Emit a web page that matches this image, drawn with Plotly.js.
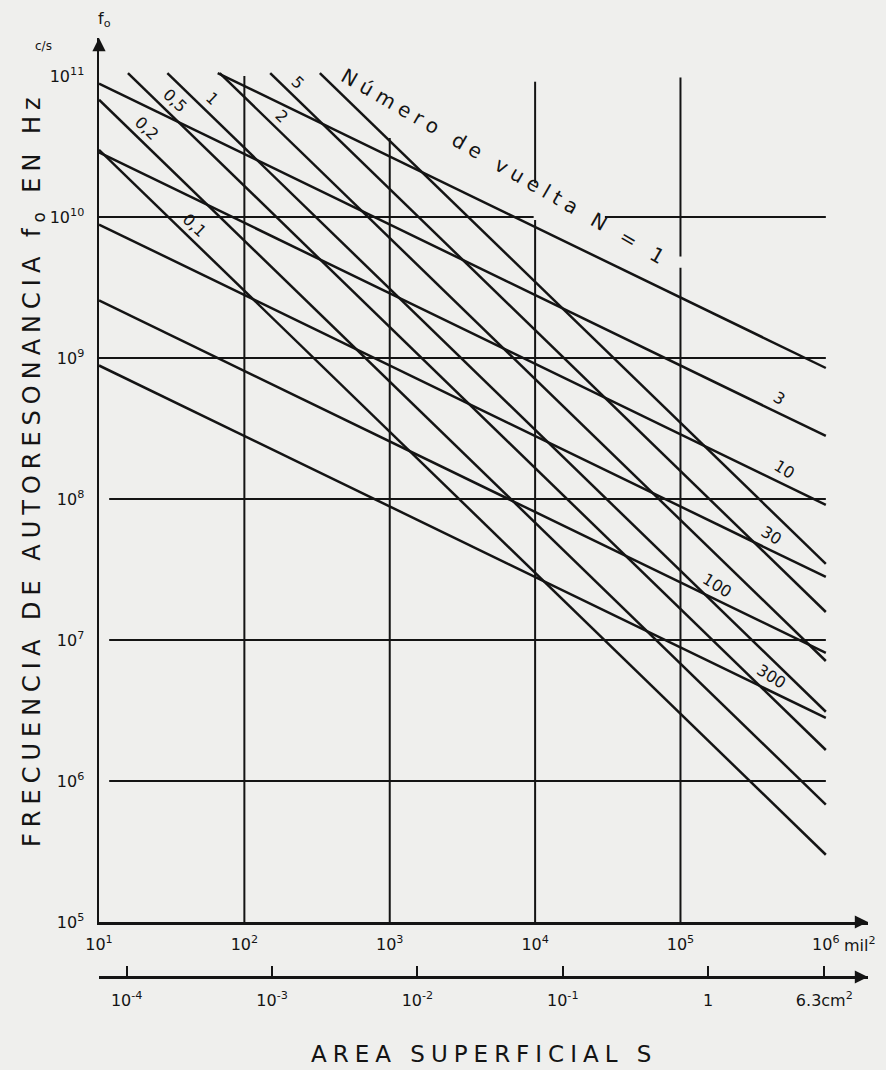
<!DOCTYPE html>
<html>
<head>
<meta charset="utf-8">
<script src="https://cdn.plot.ly/plotly-3.0.1.min.js"></script>
<style>
  html, body { margin: 0; padding: 0; background: #efefed; }
  #chart { width: 886px; height: 1070px; }
</style>
</head>
<body>
<div id="chart"></div>
<script>
// ---------- data ----------
// Steep family (slope -1 on log-log): label and frequency (Hz) at S = 1e4 mil²
const steepLabels = ['0,1', '0,2', '0,5', '1', '2', '5', ''];
const steepFreqAt1e4 = [3.0e7, 6.8e7, 1.66e8, 3.1e8, 7.1e8, 1.58e9, 3.47e9];
const steepLabelS = [39.6, 18.5, 28.8, 51.9, 158, 202, null];

// Shallow family (slope -1/2): número de vueltas N, frequency (Hz) at S = 1e4 mil²
const turnsN = [1, 3, 10, 30, 100, 300];
const turnsFreqAt1e4 = [8.5e9, 2.8e9, 9.1e8, 2.8e8, 8.1e7, 2.8e7];
const turnsLabelS = [6300, 4.35e5, 4.72e5, 3.84e5, 1.63e5, 3.84e5];

// Axis ticks
const yTickVals = [1e5, 1e6, 1e7, 1e8, 1e9, 1e10, 1e11];
const yTickText = ['10<sup>5</sup>', '10<sup>6</sup>', '10<sup>7</sup>', '10<sup>8</sup>', '10<sup>9</sup>', '10<sup>10</sup>', '10<sup>11</sup>'];
const xTickVals = [1e1, 1e2, 1e3, 1e4, 1e5, 1e6];
const xTickText = ['10<sup>1</sup>', '10<sup>2</sup>', '10<sup>3</sup>', '10<sup>4</sup>', '10<sup>5</sup>', '10<sup>6</sup>'];
const cmTickVals = [1e-4, 1e-3, 1e-2, 1e-1, 1, 6.3];
const cmTickText = ['10<sup>-4</sup>', '10<sup>-3</sup>', '10<sup>-2</sup>', '10<sup>-1</sup>', '1', '6.3cm<sup>2</sup>'];
const milPerCm2 = 155000;        // 1 cm² = 155 000 mil²

// Chart limits
const S_MIN = 10, S_MAX = 1e6, F_TOP = 1.05e11;
const X_RANGE = [1, 6.29], Y_RANGE = [5, 11.27];

// ---------- build ----------
const Z = Math.log10;
const INK = '#141414';
const traces = [];
const annotations = [];

function seg(xs, ys, w) {
  traces.push({ type: 'scatter', mode: 'lines', x: xs, y: ys, xaxis: 'x', yaxis: 'y',
    line: { color: INK, width: w }, hoverinfo: 'skip', showlegend: false });
}

// Grid lines (drawn as data lines with their own extents)
const hGrid = [
  { f: 1e6, s0: 10 ** 1.07 }, { f: 1e7, s0: 10 ** 1.07 }, { f: 1e8, s0: 10 ** 1.07 },
  { f: 1e9, s0: 10 }, { f: 1e10, s0: 10, gap: [10 ** 3.99, 10 ** 4.48] }
];
hGrid.forEach(g => {
  if (g.gap) seg([g.s0, g.gap[0], null, g.gap[1], S_MAX], [g.f, g.f, null, g.f, g.f], 2);
  else seg([g.s0, S_MAX], [g.f, g.f], 2);
});
const vGrid = [
  { s: 1e2, top: 10 ** 11.0 }, { s: 1e3, top: 10 ** 10.56 },
  { s: 1e4, top: 10 ** 10.96, gap: [10 ** 9.98, 10 ** 10.24] },
  { s: 1e5, top: 10 ** 10.99, gap: [10 ** 9.64, 10 ** 9.72] }
];
vGrid.forEach(g => {
  if (g.gap) seg([g.s, g.s, null, g.s, g.s], [1e5, g.gap[0], null, g.gap[1], g.top], 2);
  else seg([g.s, g.s], [1e5, g.top], 2);
});

// Steep lines f = k / S
steepFreqAt1e4.forEach((f4, i) => {
  const k = f4 * 1e4;
  const s0 = Math.max(S_MIN, k / F_TOP);
  seg([s0, S_MAX], [k / s0, k / S_MAX], 2.5);
  if (steepLabels[i] && steepLabelS[i]) {
    const s = steepLabelS[i];
    annotations.push({ xref: 'x', yref: 'y', x: Z(s), y: Z(k / s), xshift: 9, yshift: 9,
      text: steepLabels[i], showarrow: false, textangle: 44,
      font: { size: 16, color: INK } });
  }
});

// Shallow lines f = k / sqrt(S)
turnsFreqAt1e4.forEach((f4, i) => {
  const k = f4 * 100;
  const s0 = Math.max(S_MIN, (k / F_TOP) ** 2);
  seg([s0, S_MAX], [k / Math.sqrt(s0), k / Math.sqrt(S_MAX)], 2.5);
  const s = turnsLabelS[i];
  const f = k / Math.sqrt(s);
  if (i === 0) {
    annotations.push({ xref: 'x', yref: 'y', x: Z(s), y: Z(f), yshift: 45,
      xanchor: 'center', yanchor: 'middle',
      text: 'Número de vuelta N = ' + turnsN[i], showarrow: false, textangle: 30,
      font: { size: 20, color: INK }, name: 'spaced' });
  } else {
    annotations.push({ xref: 'x', yref: 'y', x: Z(s), y: Z(f), xshift: 6, yshift: 12,
      xanchor: 'center', yanchor: 'middle',
      text: String(turnsN[i]), showarrow: false, textangle: 32,
      font: { size: 16, color: INK } });
  }
});

// Invisible trace to tie the cm² axis to the plot
traces.push({ type: 'scatter', mode: 'none', x: [S_MIN / milPerCm2, S_MAX / milPerCm2], y: [1e5, 1e5],
  xaxis: 'x2', yaxis: 'y', hoverinfo: 'skip', showlegend: false });

// Layout geometry: margins b=60, t=38; plot bottom at pixel 922
const paperH = 1070 - 60 - 38;
const yDomainStart = (1010 - 922) / paperH;
const cmAxisPos = (1010 - 977) / paperH;

// Texts & arrows
annotations.push(
  { xref: 'paper', yref: 'paper', x: 0, xshift: -66, y: (1010 - 469) / paperH,
    xanchor: 'center', yanchor: 'middle',
    text: 'FRECUENCIA DE AUTORESONANCIA f<sub>o</sub> EN Hz', textangle: -90, showarrow: false,
    font: { size: 24, color: INK }, name: 'spaced' },
  { xref: 'paper', yref: 'paper', x: 0.5, y: (1010 - 1054) / paperH,
    xanchor: 'center', yanchor: 'middle',
    text: 'AREA SUPERFICIAL S', showarrow: false, font: { size: 23, color: INK }, name: 'spaced' },
  { xref: 'paper', yref: 'paper', x: 0, xshift: -56, y: (1010 - 46) / paperH,
    xanchor: 'center', yanchor: 'middle',
    text: 'c/s', showarrow: false, font: { size: 12, color: INK } },
  { xref: 'paper', yref: 'paper', x: 0, xshift: 5, y: (1010 - 20) / paperH,
    xanchor: 'center', yanchor: 'middle',
    text: 'f<sub>o</sub>', showarrow: false, font: { size: 16, color: INK } },
  { xref: 'x', yref: 'y', x: 6, xshift: 34, y: 5, yshift: -22,
    xanchor: 'center', yanchor: 'middle',
    text: 'mil<sup>2</sup>', showarrow: false, font: { size: 16, color: INK } },
  // arrow heads
  { xref: 'x', yref: 'y', x: X_RANGE[1], y: Y_RANGE[0], ax: -14, ay: 0, text: '',
    showarrow: true, arrowhead: 2, arrowsize: 1.2, arrowwidth: 2.2, arrowcolor: INK },
  { xref: 'x', yref: 'y', x: X_RANGE[0], y: Y_RANGE[1], ax: 0, ay: 14, text: '',
    showarrow: true, arrowhead: 2, arrowsize: 1.2, arrowwidth: 2.2, arrowcolor: INK },
  { xref: 'paper', yref: 'paper', x: 1, y: cmAxisPos, ax: -14, ay: 0, text: '',
    showarrow: true, arrowhead: 2, arrowsize: 1.2, arrowwidth: 2.2, arrowcolor: INK }
);

const layout = {
  width: 886, height: 1070,
  margin: { l: 99, r: 18, t: 38, b: 60 },
  paper_bgcolor: '#efefed', plot_bgcolor: '#efefed',
  showlegend: false,
  font: { family: 'DejaVu Sans, sans-serif', color: INK, size: 15 },
  xaxis: { type: 'log', range: X_RANGE, domain: [0, 1], anchor: 'y',
    showgrid: false, zeroline: false, showline: true, linewidth: 2.5, linecolor: INK,
    ticks: '', tickvals: xTickVals, ticktext: xTickText, tickfont: { size: 16, color: INK },
    ticklabelstandoff: 6 },
  xaxis2: { type: 'log', overlaying: 'x', anchor: 'free', position: cmAxisPos, side: 'bottom',
    range: [Z(10 ** X_RANGE[0] / milPerCm2), Z(10 ** X_RANGE[1] / milPerCm2)],
    showgrid: false, zeroline: false, showline: true, linewidth: 2.5, linecolor: INK,
    ticks: 'inside', ticklen: 10, tickwidth: 2, tickcolor: INK,
    tickvals: cmTickVals, ticktext: cmTickText, tickfont: { size: 16, color: INK },
    ticklabelstandoff: 8 },
  yaxis: { type: 'log', range: Y_RANGE, domain: [yDomainStart, 1],
    showgrid: false, zeroline: false, showline: true, linewidth: 2.5, linecolor: INK,
    ticks: '', tickvals: yTickVals, ticktext: yTickText, tickfont: { size: 16, color: INK },
    ticklabelstandoff: 9 },
  annotations: annotations
};

Plotly.newPlot('chart', traces, layout, { staticPlot: true, displayModeBar: false }).then(gd => {
  gd.querySelectorAll('g.annotation').forEach(g => {
    const idx = +g.getAttribute('data-index');
    const a = layout.annotations[idx];
    if (a && a.name === 'spaced') {
      const t = g.querySelector('text');
      if (t) t.setAttribute('letter-spacing', '6px');
    }
  });
});
</script>
</body>
</html>
